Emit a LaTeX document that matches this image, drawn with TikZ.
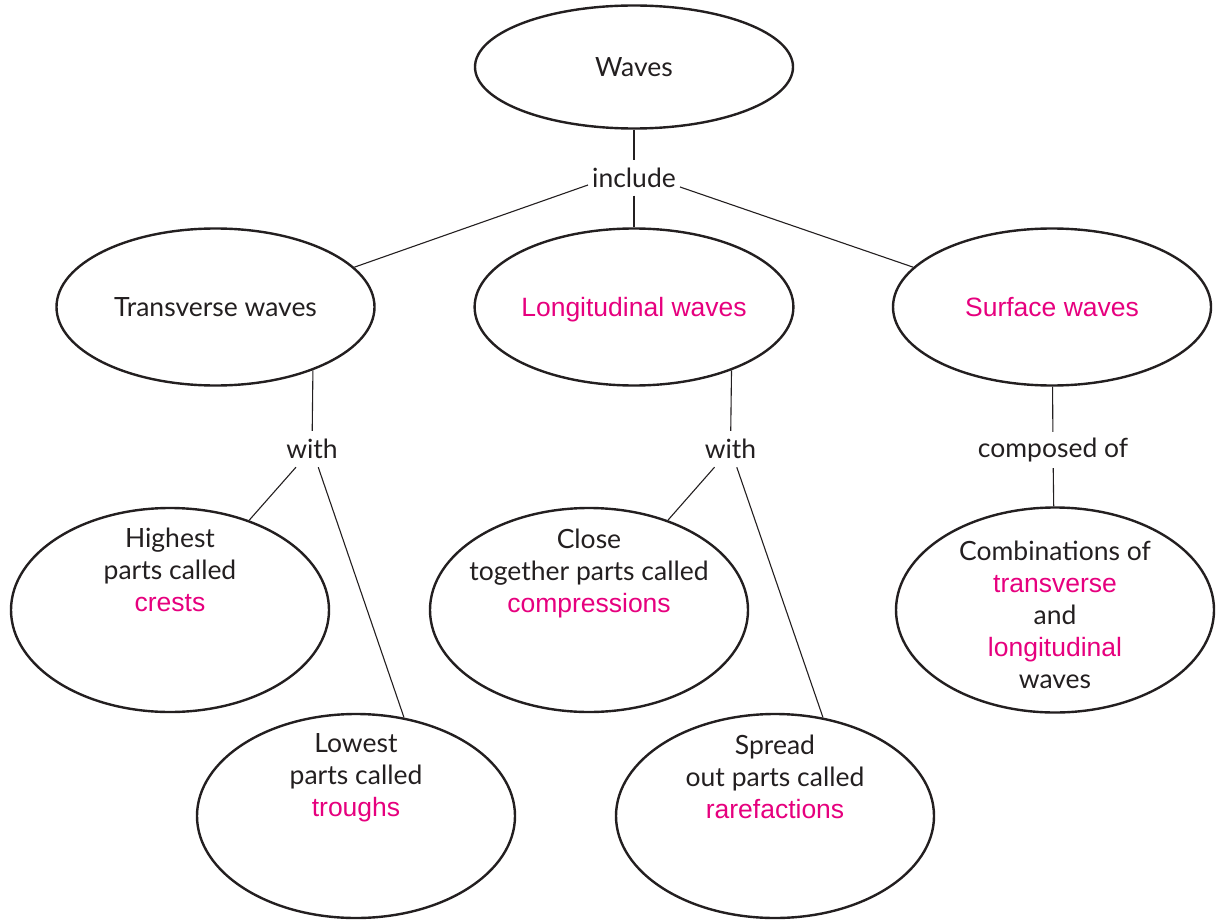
\documentclass[tikz,border=0pt]{standalone}
\usepackage{fontspec}
\setmainfont{Lato}
\newfontfamily\accentfont{Liberation Sans}
\usetikzlibrary{shapes.geometric}
\definecolor{ink}{HTML}{231F20}
\definecolor{accent}{RGB}{230,0,126}
\newcommand\hl[1]{{\accentfont\color{accent}#1}}

\begin{document}
\begin{tikzpicture}[x=1pt,y=-1pt,
  bubble/.style={ellipse, draw=ink, line width=2.4pt, inner sep=0pt,
                 minimum width=318pt, text=ink, text height=19pt, text depth=0pt,
                 font=\fontsize{26.5}{32}\selectfont},
  small/.style={bubble, minimum height=157pt},
  big/.style={bubble, minimum height=204pt},
  txt/.style={font=\fontsize{26.5}{32}\selectfont, text=ink, align=center, inner sep=0pt},
  linkword/.style={font=\fontsize{26.5}{32}\selectfont, text=ink,
                   inner xsep=5pt, inner ysep=0pt, minimum height=36pt},
  wire/.style={draw=ink, line width=1.1pt}]
\useasboundingbox (0,0) rectangle (1222,920);

% top level
\node[bubble, minimum height=123pt] (waves) at (634,67) {Waves};
\node[linkword, minimum height=35pt, inner xsep=4pt] (inc) at (634,178) {include};

% wave types
\node[small] (trans) at (215.5,307) {Transverse waves};
\node[small] (long)  at (634,307)   {\hl{Longitudinal waves}};
\node[small] (surf)  at (1052,307)  {\hl{Surface waves}};

% linking words
\node[linkword] (w1)   at (312,449)   {with};
\node[linkword] (w2)   at (730.5,449) {with};
\node[linkword] (comp) at (1053,450)  {composed of};

% descriptions
\node[big] (hi)     at (170,610) {};
\node[big] (close)  at (589,610) {};
\node[big] (lo)     at (356,816) {};
\node[big] (spread) at (775,816) {};
\node[big, minimum height=205pt] (comb) at (1055,610) {};

\node[txt] (hiT)   at (170,570) {Highest\\parts called\\\hl{crests}};
\node[txt] (closeT) at (589,573) {Close\\together parts called\\\hl{compressions}};
\node[txt] (loT)   at (356,778) {Lowest\\parts called\\\hl{troughs}};
\node[txt] (spreadT) at (775,777) {Spread\\out parts called\\\hl{rarefactions}};
\node[txt] (combT) at (1055,615) {Combinations of\\\hl{transverse}\\and\\\hl{longitudinal}\\waves};

% connectors
\draw[wire] (waves) -- (inc);
\draw[wire] (inc) -- (long);
\draw[wire] ([yshift=-7pt]inc.west) -- (trans.16);
\draw[wire] ([yshift=-9pt]inc.east) -- (surf.164);

\draw[wire] (trans.-33) -- (w1);
\draw[wire] (w1) -- (hi);
\draw[wire] (w1) -- (lo.64);

\draw[wire] (long.-33) -- (w2);
\draw[wire] (w2) -- (close);
\draw[wire] (w2) -- (spread.64);

\draw[wire] (surf) -- (comp);
\draw[wire] (comp) -- (comb);
\end{tikzpicture}
\end{document}
